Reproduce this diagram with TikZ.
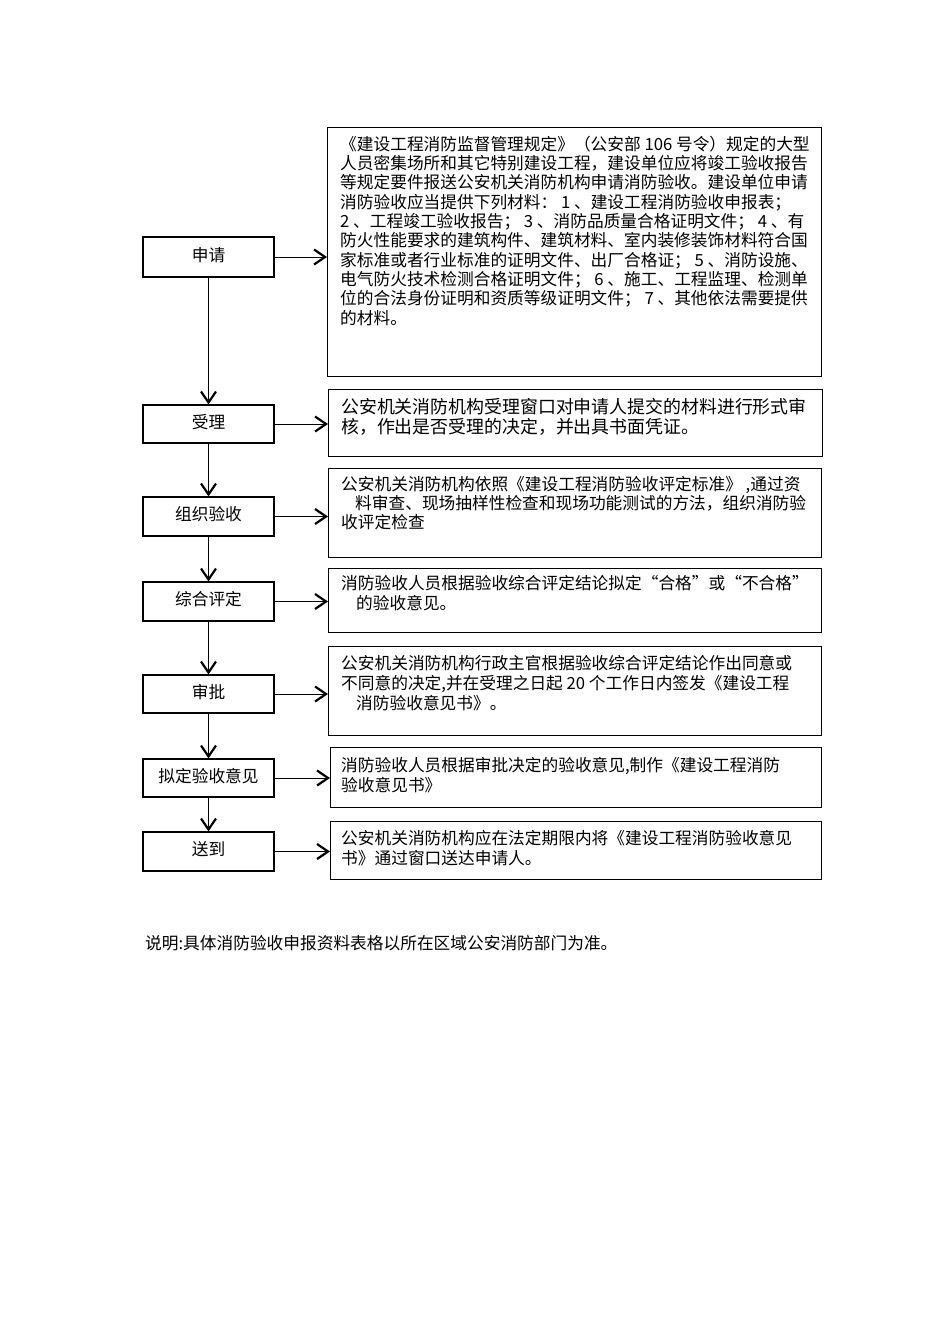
\documentclass[tikz,border=0pt]{standalone}
\usepackage{fontspec}
\newfontfamily\cjk{Noto Sans CJK SC}
\usetikzlibrary{arrows.meta}
\tikzset{
  lbox/.style={draw, line width=1.1pt, minimum width=131pt, inner sep=0pt,
    font=\cjk\fontsize{16.7}{20}\selectfont, text height=14.5pt, text depth=6.5pt},
  rbox/.style={draw, line width=1.1pt, inner sep=0pt, anchor=north west},
  txt/.style={inner sep=0pt, anchor=base west, font=\cjk\fontsize{16.7}{20}\selectfont},
  txtw/.style={inner sep=0pt, anchor=base west, font=\cjk\fontsize{17.9}{20}\selectfont},
  arr/.style={line width=0.9pt, -{Straight Barb[length=11pt,width=15pt,line width=2.2pt]}},
}
\newcommand\myline[4][txt]{\node[#1] (#2) at #3 {#4};}
\begin{document}
\begin{tikzpicture}[x=1pt,y=-1pt]
\useasboundingbox (0,0) rectangle (950,1344);
\fill[white] (0,0) rectangle (950,1344);

% left column
\node[lbox, minimum height=40pt] (l1) at (208.5,257)   {申请};
\node[lbox, minimum height=38pt] (l2) at (208.5,424)   {受理};
\node[lbox, minimum height=39pt] (l3) at (208.5,516.5) {组织验收};
\node[lbox, minimum height=39pt] (l4) at (208.5,601.5) {综合评定};
\node[lbox, minimum height=38pt] (l5) at (208.5,694)   {审批};
\node[lbox, minimum height=38pt] (l6) at (208.5,778)   {拟定验收意见};
\node[lbox, minimum height=39pt] (l7) at (208.5,851.5) {送到};

% right boxes
\node[rbox, minimum width=494pt, minimum height=249pt] (r1) at (327,127) {};
\node[rbox, minimum width=494pt, minimum height=67pt]  (r2) at (328,389) {};
\node[rbox, minimum width=493pt, minimum height=89pt]  (r3) at (328,468) {};
\node[rbox, minimum width=493pt, minimum height=64pt]  (r4) at (328,568) {};
\node[rbox, minimum width=493pt, minimum height=89pt]  (r5) at (328,646) {};
\node[rbox, minimum width=491pt, minimum height=60pt]  (r6) at (330,747) {};
\node[rbox, minimum width=491pt, minimum height=58pt]  (r7) at (330,821) {};

% box 1 text
\myline{t1a}{(340,150.3)}{《建设工程消防监督管理规定》（公安部 106 号令）规定的大型}
\myline{t1b}{(340,169.6)}{人员密集场所和其它特别建设工程，建设单位应将竣工验收报告}
\myline{t1c}{(340,188.9)}{等规定要件报送公安机关消防机构申请消防验收。建设单位申请}
\myline{t1d}{(340,208.2)}{消防验收应当提供下列材料： 1 、建设工程消防验收申报表；}
\myline{t1e}{(340,227.5)}{2 、工程竣工验收报告； 3 、消防品质量合格证明文件； 4 、有}
\myline{t1f}{(340,246.8)}{防火性能要求的建筑构件、建筑材料、室内装修装饰材料符合国}
\myline{t1g}{(340,266.1)}{家标准或者行业标准的证明文件、出厂合格证； 5 、消防设施、}
\myline{t1h}{(340,285.4)}{电气防火技术检测合格证明文件； 6 、施工、工程监理、检测单}
\myline{t1i}{(340,304.7)}{位的合法身份证明和资质等级证明文件； 7 、其他依法需要提供}
\myline{t1j}{(340,324.0)}{的材料。}

% box 2 text
\myline[txtw]{t2a}{(341,413.5)}{公安机关消防机构受理窗口对申请人提交的材料进行形式审}
\myline[txtw]{t2b}{(341,433.5)}{核，作出是否受理的决定，并出具书面凭证。}

% box 3 text
\myline{t3a}{(341,490.8)}{公安机关消防机构依照《建设工程消防验收评定标准》 ,通过资}
\myline{t3b}{(355,509.8)}{料审查、现场抽样性检查和现场功能测试的方法，组织消防验}
\myline{t3c}{(341,528.3)}{收评定检查}

% box 4 text
\myline{t4a}{(341,589.8)}{消防验收人员根据验收综合评定结论拟定“合格”或“不合格”}
\myline{t4b}{(356,609.6)}{的验收意见。}

% box 5 text
\myline{t5a}{(341,669.6)}{公安机关消防机构行政主官根据验收综合评定结论作出同意或}
\myline{t5b}{(341,689.6)}{不同意的决定,并在受理之日起 20 个工作日内签发《建设工程}
\myline{t5c}{(356,709.0)}{消防验收意见书》。}

% box 6 text
\myline{t6a}{(341,771.3)}{消防验收人员根据审批决定的验收意见,制作《建设工程消防}
\myline{t6b}{(341,791.3)}{验收意见书》}

% box 7 text
\myline{t7a}{(341,844.6)}{公安机关消防机构应在法定期限内将《建设工程消防验收意见}
\myline{t7b}{(341,864.6)}{书》通过窗口送达申请人。}

% footer
\myline{foot}{(145,949.3)}{说明:具体消防验收申报资料表格以所在区域公安消防部门为准。}

% vertical connectors
\draw[arr] (l1.south) -- (l1.south |- l2.north);
\draw[arr] (l2.south) -- (l2.south |- l3.north);
\draw[arr] (l3.south) -- (l3.south |- l4.north);
\draw[arr] (l4.south) -- (l4.south |- l5.north);
\draw[arr] (l5.south) -- (l5.south |- l6.north);
\draw[arr] (l6.south) -- (l6.south |- l7.north);

% horizontal connectors
\draw[arr] (l1.east) -- (l1.east -| r1.west);
\draw[arr] (l2.east) -- (l2.east -| r2.west);
\draw[arr] (l3.east) -- (l3.east -| r3.west);
\draw[arr] (l4.east) -- (l4.east -| r4.west);
\draw[arr] (l5.east) -- (l5.east -| r5.west);
\draw[arr] (l6.east) -- (l6.east -| r6.west);
\draw[arr] (l7.east) -- (l7.east -| r7.west);
\end{tikzpicture}
\end{document}
